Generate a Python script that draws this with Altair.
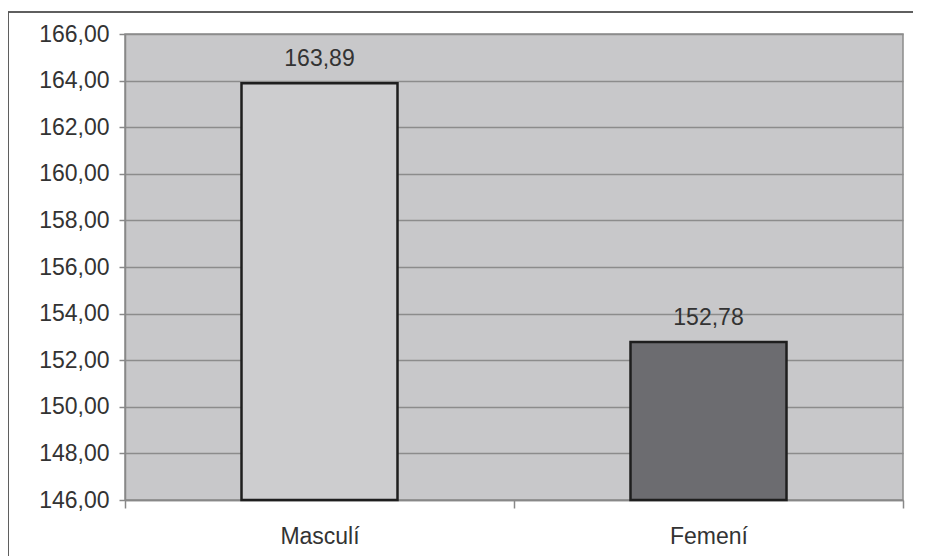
import altair as alt
import pandas as pd

categories = ["Masculí", "Femení"]
values = [163.89, 152.78]
bar_colors = ["#cdcdcf", "#6c6c70"]

df = pd.DataFrame({"cat": categories, "val": values, "color": bar_colors})

W, H = 778, 466
PAD_L, PAD_T = 117, 26
FONT = "Liberation Sans"
FS = 23

base = alt.Chart(df).transform_calculate(
    label="replace(format(datum.val, '.2f'), '.', ',')"
)

yscale = alt.Scale(domain=[146, 166], zero=False, nice=False)
xscale = alt.Scale(domain=categories, paddingInner=0, paddingOuter=0)
xenc = alt.X("cat:N", sort=categories, title=None, scale=xscale,
             axis=alt.Axis(labelAngle=0, labelFontSize=FS, labelColor="#333333",
                           labelFont=FONT, labelPadding=17,
                           tickBand="extent", tickColor="#888888", tickSize=8, tickWidth=1.5,
                           domainColor="#888888", domainWidth=1.5, grid=False))

bars = base.mark_bar(stroke="#1e1e1e", strokeWidth=2.5, size=156).encode(
    x=xenc,
    y=alt.Y("val:Q", scale=yscale, title=None,
            axis=alt.Axis(values=list(range(146, 167, 2)),
                          labelExpr="replace(format(datum.value, '.2f'), '.', ',')",
                          labelFontSize=FS, labelColor="#333333", labelFont=FONT,
                          labelPadding=10, tickSize=6, tickWidth=1.5, tickColor="#888888",
                          domainColor="#888888", domainWidth=1.5,
                          gridColor="#8c8c8c", gridWidth=1.5)),
    y2=alt.datum(146),
    color=alt.Color("color:N", scale=None),
)

text = base.mark_text(baseline="alphabetic", dy=-17, fontSize=FS, color="#333333",
                      font=FONT).encode(
    x=alt.X("cat:N", sort=categories, scale=xscale),
    y=alt.Y("val:Q", scale=yscale),
    text="label:N",
)

frame_left = alt.Chart(df).mark_rule(color="#555555", strokeWidth=1.5, clip=False).encode(
    x=alt.value(-117), y=alt.value(-22), y2=alt.value(540)
)
frame_top = alt.Chart(df).mark_rule(color="#555555", strokeWidth=1.5, clip=False).encode(
    x=alt.value(-117), x2=alt.value(810), y=alt.value(-22)
)

chart = alt.layer(bars, text, frame_left, frame_top).properties(
    width=W, height=H,
    autosize=alt.AutoSizeParams(type="none"),
    padding={"left": PAD_L, "top": PAD_T, "right": 10, "bottom": 60},
).configure(
    background="white"
).configure_view(
    fill="#c8c8ca", stroke="#8c8c8c", strokeWidth=1.5
)

chart.save("out.html", embed_options={"renderer": "svg", "actions": False})
